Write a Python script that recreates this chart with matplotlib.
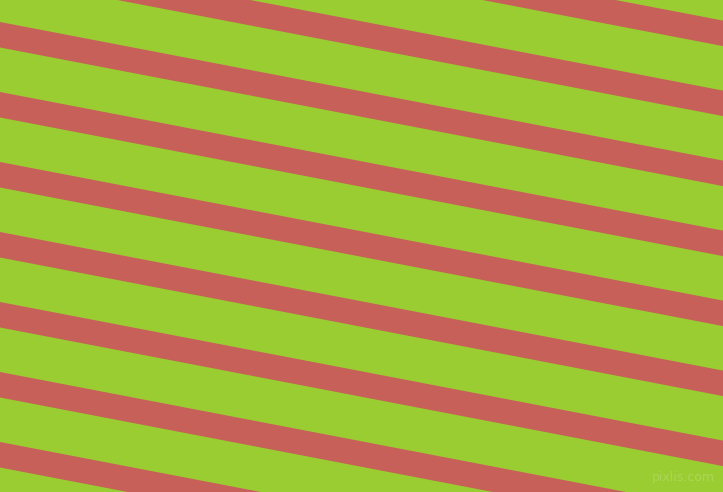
import numpy as np
import matplotlib.pyplot as plt

W, H = 723, 492
GREEN = "#9acd32"
RED = "#c76058"

# top edge of each red band where it meets the left border (px, y down)
band_tops = [-118, -48, 22, 92, 162, 232, 302, 372, 442]
band_height = 25.5      # vertical thickness of a band
slope = 0.1917          # drop in px per px to the right

fig = plt.figure(figsize=(W / 100, H / 100), dpi=100)
ax = fig.add_axes([0, 0, 1, 1])
ax.set_facecolor(GREEN)

x = np.array([0, W])
for top in band_tops:
    y0 = top + slope * x
    ax.fill_between(x, y0, y0 + band_height, color=RED, linewidth=0)

ax.text(W - 8, H - 8, "pixlis.com", ha="right", va="bottom",
        fontsize=9, color="#b8dc70", alpha=0.6)

ax.set_xlim(0, W)
ax.set_ylim(H, 0)
ax.axis("off")
fig.patch.set_facecolor(GREEN)

fig.savefig("out.png", dpi=100, facecolor=GREEN)
